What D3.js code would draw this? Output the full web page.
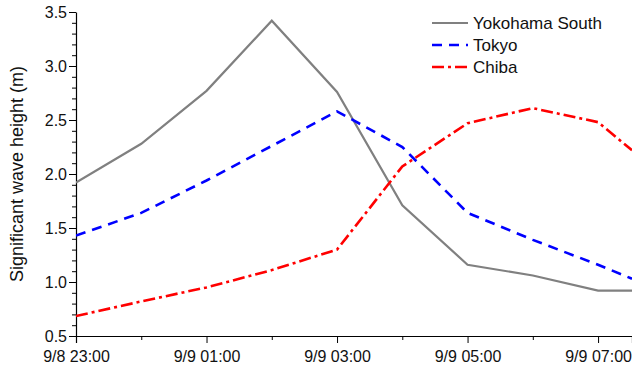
<!DOCTYPE html>
<html lang="en">
<head>
  <meta charset="UTF-8">
  <title>Significant wave height</title>
  <script src="https://d3js.org/d3.v7.min.js"></script>
  <style>
    body { margin: 0; background: #fff; }
    text { font-family: "Liberation Sans", Arial, sans-serif; fill: #111; }
  </style>
</head>
<body>
<script>
  // hours after 9/8 23:00, last point sits at the cropped right edge
  const times = [0, 1, 2, 3, 4, 5, 6, 7, 8, 8.52];
  const yokohama = [1.92, 2.28, 2.77, 3.42, 2.76, 1.71, 1.16, 1.06, 0.92, 0.92];
  const tokyo = [1.43, 1.64, 1.94, 2.26, 2.58, 2.25, 1.64, 1.39, 1.16, 1.03];
  const chiba = [0.685, 0.82, 0.95, 1.11, 1.30, 2.07, 2.47, 2.61, 2.48, 2.22];
  const xTickLabels = ["9/8 23:00", "9/9 01:00", "9/9 03:00", "9/9 05:00", "9/9 07:00"];
  const seriesNames = ["Yokohama South", "Tokyo", "Chiba"];

  const width = 632, height = 369;
  const margin = { top: 12, right: 0, bottom: 33, left: 76 };

  const svg = d3.select("body").append("svg")
    .attr("width", width)
    .attr("height", height);

  const x = d3.scaleLinear()
    .domain([0, 8.52])
    .range([margin.left, width - margin.right]);

  const y = d3.scaleLinear()
    .domain([0.5, 3.5])
    .range([height - margin.bottom, margin.top]);

  // x axis: labelled ticks every 2 h, minor every other hour
  svg.append("g")
    .attr("transform", "translate(0," + (height - margin.bottom) + ")")
    .call(d3.axisBottom(x).tickValues([1, 3, 5, 7]).tickSize(4).tickFormat(""))
    .call(g => g.select(".domain").remove());

  svg.append("g")
    .attr("transform", "translate(0," + (height - margin.bottom) + ")")
    .call(d3.axisBottom(x).tickValues([0, 2, 4, 6, 8]).tickSizeOuter(0).tickSize(7)
      .tickFormat((d, i) => xTickLabels[i]))
    .call(g => g.selectAll("text").attr("font-size", 16).attr("dy", "0.95em").attr("y", 11))
    .call(g => g.select(".domain").attr("stroke-width", 1.2));

  // y axis
  svg.append("g")
    .attr("transform", "translate(" + margin.left + ",0)")
    .call(d3.axisLeft(y).tickValues(d3.range(0.6, 3.5, 0.1).filter(v => Math.abs(v * 2 - Math.round(v * 2)) > 0.01))
      .tickSize(4).tickFormat(""))
    .call(g => g.select(".domain").remove());

  svg.append("g")
    .attr("transform", "translate(" + margin.left + ",0)")
    .call(d3.axisLeft(y).tickValues(d3.range(0.5, 3.51, 0.5)).tickSize(7).tickSizeOuter(0)
      .tickFormat(d3.format(".1f")))
    .call(g => g.selectAll("text").attr("font-size", 16).attr("x", -9))
    .call(g => g.select(".domain").attr("stroke-width", 1.2));

  svg.append("text")
    .attr("transform", "rotate(-90)")
    .attr("x", -(margin.top + height - margin.bottom) / 2)
    .attr("y", 23)
    .attr("text-anchor", "middle")
    .attr("font-size", 18)
    .text("Significant wave height (m)");

  // lines
  svg.append("clipPath").attr("id", "clip")
    .append("rect")
    .attr("x", margin.left).attr("y", 0)
    .attr("width", width - margin.left).attr("height", height - margin.bottom);

  const series = [
    { name: seriesNames[0], values: yokohama, color: "#808080", dash: null, w: 2.2 },
    { name: seriesNames[1], values: tokyo, color: "#0000ff", dash: "10,7", w: 2.6 },
    { name: seriesNames[2], values: chiba, color: "#ff0000", dash: "12,4,3,4", w: 2.6 }
  ];

  const line = d3.line()
    .x((d, i) => x(times[i]))
    .y(d => y(d));

  svg.append("g").attr("clip-path", "url(#clip)")
    .selectAll("path")
    .data(series)
    .enter().append("path")
    .attr("d", d => line(d.values))
    .attr("fill", "none")
    .attr("stroke", d => d.color)
    .attr("stroke-width", d => d.w)
    .attr("stroke-dasharray", d => d.dash);

  // legend
  const legend = svg.append("g").attr("transform", "translate(432,23)");
  series.forEach((s, i) => {
    const row = legend.append("g").attr("transform", "translate(0," + i * 22 + ")");
    row.append("line")
      .attr("x1", 0).attr("x2", 36)
      .attr("stroke", s.color)
      .attr("stroke-width", s.w)
      .attr("stroke-dasharray", s.dash);
    row.append("text")
      .attr("x", 41)
      .attr("dy", "0.35em")
      .attr("font-size", 17)
      .text(s.name);
  });
</script>
</body>
</html>
